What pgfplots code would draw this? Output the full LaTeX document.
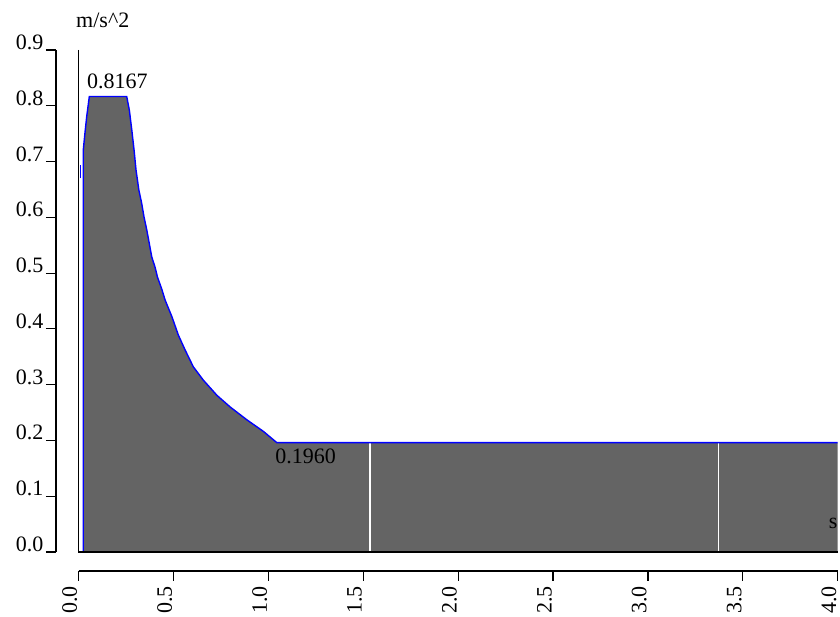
\documentclass[border=0pt]{standalone}
\usepackage{pgfplots}
\pgfplotsset{compat=1.18}
\usepackage{pgfplotstable}
\usepackage{fontspec}
\setmainfont{Liberation Serif}
\definecolor{areagray}{RGB}{100,100,100}
\pgfplotstableread{
x y
0.025 0
0.025 0.720
0.034 0.751
0.043 0.780
0.057 0.8167
0.254 0.8167
0.268 0.792
0.281 0.756
0.293 0.720
0.303 0.685
0.318 0.649
0.333 0.625
0.345 0.601
0.360 0.577
0.373 0.553
0.386 0.529
0.403 0.511
0.416 0.493
0.439 0.471
0.456 0.452
0.492 0.422
0.526 0.389
0.562 0.362
0.605 0.332
0.658 0.308
0.729 0.281
0.799 0.260
0.887 0.237
0.975 0.216
1.045 0.196
4.000 0.196
}\curve
\newcommand{\lblfont}{\fontsize{22}{26}\selectfont}
\begin{document}
\begin{tikzpicture}[x=1pt,y=1pt]
\path[use as bounding box] (0,0) rectangle (840,617);
\begin{axis}[
  at={(78.5pt,65pt)}, anchor=south west,
  scale only axis, width=759.2pt, height=502pt,
  xmin=0, xmax=4, ymin=0, ymax=0.9,
  axis lines=left,
  axis x line shift=19pt, axis y line shift=22.5pt,
  axis line style={-, black, line width=1.2pt},
  tick align=outside, major tick length=10pt,
  tick style={black, line width=1.2pt},
  xtick={0,0.5,1,1.5,2,2.5,3,3.5,4},
  ytick={0,0.1,0.2,0.3,0.4,0.5,0.6,0.7,0.8,0.9},
  /pgf/number format/.cd, fixed, fixed zerofill, precision=1, assume math mode=true,
  /pgfplots/.cd,
  xticklabel style={xshift=-1.5pt, yshift=-5pt, rotate=90, anchor=base east, font=\lblfont, inner sep=0pt},
  yticklabel style={xshift=-2.5pt, yshift=0.5pt, anchor=base east, font=\lblfont, inner sep=0pt},
  clip=false,
]
\addplot[fill=areagray, draw=none] table[x=x,y=y]{\curve} \closedcycle;
\addplot[white, line width=1.6pt] coordinates {(1.537,0) (1.537,0.196)};
\addplot[white, line width=1.6pt] coordinates {(3.371,0) (3.371,0.196)};
\addplot[blue, line width=1.4pt] table[x=x,y=y]{\curve};
\addplot[blue, line width=1.4pt] coordinates {(0.009,0.670) (0.009,0.694)};
\draw[black, line width=1.2pt] (axis cs:0,0.9) -- (axis cs:0,0) -- (axis cs:4,0);
\node[anchor=base west, font=\lblfont, inner sep=0pt] at (axis cs:0.045,0.8315) {0.8167};
\node[anchor=base west, font=\lblfont, inner sep=0pt] at (axis cs:1.036,0.1595) {0.1960};
\node[anchor=base west, font=\lblfont, inner sep=0pt] at (axis cs:-0.013,0.941) {m/s\textasciicircum 2};
\node[anchor=base east, font=\lblfont, inner sep=0pt] at (axis cs:4.0,0.043) {s};
\end{axis}
\end{tikzpicture}
\end{document}
